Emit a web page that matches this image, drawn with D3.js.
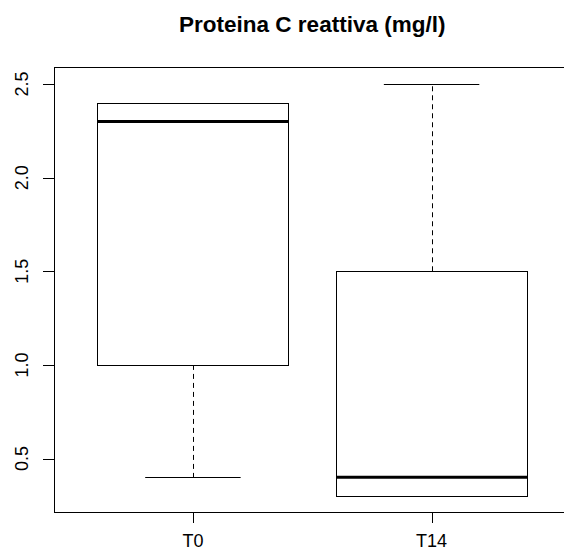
<!DOCTYPE html>
<html>
<head>
<meta charset="utf-8">
<script src="https://cdn.jsdelivr.net/npm/d3@7"></script>
<style>
  html, body { margin: 0; padding: 0; background: #fff; }
  svg { display: block; }
  text { font-family: "Liberation Sans", Arial, sans-serif; fill: #000; }
</style>
</head>
<body>
<svg id="chart" width="564" height="555"></svg>
<script>
// Boxplot summaries for C-reactive protein at each time point
const groups = ["T0", "T14"];
const whiskerLow = [0.4, 0.3];
const q1 = [1.0, 0.3];
const median = [2.3, 0.4];
const q3 = [2.4, 1.5];
const whiskerHigh = [2.4, 2.5];
const yTicks = [0.5, 1.0, 1.5, 2.0, 2.5];
const title = "Proteina C reattiva (mg/l)";

const W = 564, H = 555;
const plot = { left: 54.5, right: 570, top: 67.5, bottom: 512.5 };

const svg = d3.select("#chart");

// Data ranges padded by 4% on each side
const yMin = d3.min(whiskerLow), yMax = d3.max(whiskerHigh);
const yPad = (yMax - yMin) * 0.04;
const y = d3.scaleLinear().domain([yMin - yPad, yMax + yPad]).range([plot.bottom, plot.top]);
const x = d3.scaleLinear().domain([0.5 - 0.08, groups.length + 0.5 + 0.08]).range([plot.left, plot.right]);

const boxHalf = 0.4, capHalf = 0.2;

// Plot frame
svg.append("rect")
  .attr("x", plot.left).attr("y", plot.top)
  .attr("width", plot.right - plot.left).attr("height", plot.bottom - plot.top)
  .attr("fill", "none").attr("stroke", "#000").attr("stroke-width", 1);

const g = svg.append("g");
groups.forEach((name, i) => {
  const cx = x(i + 1);
  const px = v => Math.round(v) + 0.5;
  // whiskers
  if (whiskerHigh[i] > q3[i]) {
    g.append("line").attr("x1", px(cx)).attr("x2", px(cx))
      .attr("y1", y(q3[i])).attr("y2", y(whiskerHigh[i]))
      .attr("stroke", "#000").attr("stroke-dasharray", "5,4");
  }
  if (whiskerLow[i] < q1[i]) {
    g.append("line").attr("x1", px(cx)).attr("x2", px(cx))
      .attr("y1", y(q1[i])).attr("y2", y(whiskerLow[i]))
      .attr("stroke", "#000").attr("stroke-dasharray", "5,4");
  }
  // staples
  [whiskerLow[i], whiskerHigh[i]].forEach(v => {
    g.append("line")
      .attr("x1", x(i + 1 - capHalf)).attr("x2", x(i + 1 + capHalf))
      .attr("y1", px(y(v))).attr("y2", px(y(v)))
      .attr("stroke", "#000");
  });
  // box
  g.append("rect")
    .attr("x", px(x(i + 1 - boxHalf))).attr("y", px(y(q3[i])))
    .attr("width", Math.round(x(i + 1 + boxHalf) - x(i + 1 - boxHalf)))
    .attr("height", Math.round(y(q1[i]) - y(q3[i])))
    .attr("fill", "#fff").attr("stroke", "#000");
  // median
  g.append("line")
    .attr("x1", x(i + 1 - boxHalf)).attr("x2", x(i + 1 + boxHalf))
    .attr("y1", y(median[i])).attr("y2", y(median[i]))
    .attr("stroke", "#000").attr("stroke-width", 3);
});

// Y axis
const yAxis = svg.append("g");
yTicks.forEach(t => {
  const ty = Math.round(y(t)) + 0.5;
  yAxis.append("line").attr("x1", 43).attr("x2", plot.left).attr("y1", ty).attr("y2", ty).attr("stroke", "#000");
  yAxis.append("text")
    .attr("transform", `translate(28,${y(t)}) rotate(-90)`)
    .attr("text-anchor", "middle")
    .style("font-size", "18px")
    .text(t.toFixed(1));
});

// X axis
const xAxis = svg.append("g");
groups.forEach((name, i) => {
  const tx = Math.round(x(i + 1)) + 0.5;
  xAxis.append("line").attr("x1", tx).attr("x2", tx).attr("y1", plot.bottom).attr("y2", 523).attr("stroke", "#000");
  xAxis.append("text")
    .attr("x", x(i + 1)).attr("y", 547)
    .attr("text-anchor", "middle")
    .style("font-size", "18px")
    .text(name);
});

// Title
svg.append("text")
  .attr("x", (plot.left + plot.right) / 2).attr("y", 32)
  .attr("text-anchor", "middle")
  .style("font-size", "22.5px").style("font-weight", "bold")
  .text(title);
</script>
</body>
</html>
